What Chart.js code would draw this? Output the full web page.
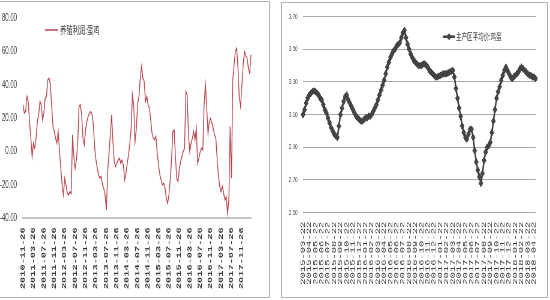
<!DOCTYPE html>
<html><head><meta charset="utf-8">
<script src="https://cdn.jsdelivr.net/npm/chart.js@4.4.1/dist/chart.umd.min.js"></script>
<style>
html,body{margin:0;padding:0;background:#fff;width:550px;height:300px;overflow:hidden;}
.panel{position:absolute;border:1px solid #b4b4b4;background:#fff;overflow:hidden;}
.squash{position:absolute;left:0;top:0;transform-origin:0 0;}
canvas{display:block;}
</style></head><body>
<div class="panel" style="left:-1px;top:1px;width:269px;height:295px;"><div class="squash" id="s1"><canvas id="c1"></canvas></div></div>
<div class="panel" style="left:281px;top:2px;width:265px;height:294px;"><div class="squash" id="s2"><canvas id="c2"></canvas></div></div>
<script>
// ---------- data: left chart (half-month steps from 2010-11-26) ----------
const profitLabel = '养殖利润:蛋鸡';
const profitTickLabels = ['2010-11-26','2011-03-26','2011-07-26','2011-11-26','2012-03-26','2012-07-26',
  '2012-11-26','2013-03-26','2013-07-26','2013-11-26','2014-03-26','2014-07-26','2014-11-26',
  '2015-03-26','2015-07-26','2015-11-26','2016-03-26','2016-07-26','2016-11-26','2017-03-26',
  '2017-07-26','2017-11-26'];
const profitValues = [
  28, 23, 24, 33, 30, 18, 8, -3, 5, 2,
  8, 18, 22, 30, 28, 19, 23, 32, 33, 43,
  44, 40, 27, 15, 12, 8, 5, 12, 0, -10,
  -20, -26, -16, -20, -25, -26, -24, -25, 10, -3,
  -10, -5, 5, 27, 28, 22, 8, 4, 13, 18,
  21, 23, 24, 22, 16, 2, -5, -10, -14, -16,
  -15, -20, -22, -26, -35, -12, -1, 10, 22, 6,
  -6, -9, -7, -5, -4, -7, -5, -8, -17, -13,
  -7, -2, 5, 14, 34, 28, 6, 14, 29, 33,
  44, 51, 44, 42, 30, 33, 28, 26, 19, 11,
  8, 7, 9, -1, -8, -14, -17, -20, -19, -22,
  -28, -31, -26, -17, -5, 12, 13, -3, -16, -18,
  -10, -6, -3, 0, 2, 36, 34, 10, 0, 5,
  8, 12, 7, 14, -7, -4, 0, 2, 1, 28,
  40, 26, 11, 18, 20, 17, 14, 10, 8, -4,
  -15, -21, -24, -21, -25, -29, -27, -37, -29, 15,
  -16, 43, 52, 60, 62, 50, 32, 27, 40, 52,
  60, 57, 56, 50, 47, 58
];
const profitYTicks = [-40, -20, 0, 20, 40, 60, 80];

// ---------- data: right chart (weekly steps from 2015-03-22) ----------
const priceLabel = '主产区平均价:鸡蛋';
const priceTickLabels = ['2015-03-22','2015-04-22','2015-05-22','2015-06-22','2015-07-22','2015-08-22',
  '2015-09-22','2015-10-22','2015-11-22','2015-12-22','2016-01-22','2016-02-22','2016-03-22',
  '2016-04-22','2016-05-22','2016-06-22','2016-07-22','2016-08-22','2016-09-22','2016-10-22',
  '2016-11-22','2016-12-22','2017-01-22','2017-02-22','2017-03-22','2017-04-22','2017-05-22',
  '2017-06-22','2017-07-22','2017-08-22','2017-09-22','2017-10-22','2017-11-22','2017-12-22',
  '2018-01-22','2018-02-22','2018-03-22','2018-04-22'];
const priceValues = [
  3.10, 3.13, 3.17, 3.20, 3.22, 3.23, 3.24, 3.245, 3.24, 3.23,
  3.22, 3.20, 3.19, 3.16, 3.13, 3.11, 3.08, 3.05, 3.02, 3.00,
  2.98, 2.97, 2.96, 3.03, 3.10, 3.14, 3.18, 3.21, 3.22, 3.19,
  3.17, 3.15, 3.13, 3.11, 3.09, 3.08, 3.07, 3.06, 3.06, 3.07,
  3.08, 3.08, 3.09, 3.09, 3.10, 3.12, 3.14, 3.16, 3.19, 3.22,
  3.25, 3.28, 3.31, 3.35, 3.39, 3.42, 3.45, 3.47, 3.49, 3.50,
  3.52, 3.53, 3.54, 3.57, 3.60, 3.615, 3.57, 3.53, 3.50, 3.47,
  3.45, 3.43, 3.42, 3.41, 3.40, 3.40, 3.40, 3.41, 3.41, 3.40,
  3.39, 3.37, 3.36, 3.35, 3.34, 3.33, 3.33, 3.335, 3.34, 3.345,
  3.35, 3.35, 3.35, 3.355, 3.36, 3.365, 3.37, 3.33, 3.26, 3.20,
  3.14, 3.09, 3.03, 2.99, 2.96, 2.95, 2.98, 3.01, 3.01, 2.96,
  2.88, 2.81, 2.76, 2.72, 2.68, 2.74, 2.82, 2.87, 2.90, 2.91,
  2.93, 2.99, 3.06, 3.13, 3.20, 3.24, 3.27, 3.31, 3.34, 3.37,
  3.39, 3.37, 3.35, 3.33, 3.32, 3.33, 3.34, 3.35, 3.36, 3.38,
  3.39, 3.38, 3.37, 3.36, 3.35, 3.34, 3.34, 3.33, 3.33, 3.32
];
const priceYTicks = [2.5, 2.7, 2.9, 3.1, 3.3, 3.5, 3.7];

// ---------- drawing ----------
const SQ = 0.6;

const inlineLegend = {
  id: 'inlineLegend',
  afterDraw(chart, args, o) {
    if (!o || !o.font) return;
    const ctx = chart.ctx, ds = chart.data.datasets[0];
    ctx.save();
    ctx.strokeStyle = ds.borderColor; ctx.lineWidth = o.lineWidth;
    ctx.beginPath(); ctx.moveTo(o.x0, o.y); ctx.lineTo(o.x1, o.y); ctx.stroke();
    if (o.marker) {
      const cx = (o.x0 + o.x1) / 2, r = o.marker;
      ctx.fillStyle = ds.pointBackgroundColor;
      ctx.beginPath(); ctx.moveTo(cx, o.y - r); ctx.lineTo(cx + r * 1.4, o.y); ctx.lineTo(cx, o.y + r); ctx.lineTo(cx - r * 1.4, o.y); ctx.closePath(); ctx.fill();
    }
    ctx.font = o.font; ctx.fillStyle = o.color; ctx.textBaseline = 'middle'; ctx.textAlign = 'left';
    ctx.fillText(ds.label, o.tx, o.y);
    ctx.restore();
  }
};

function makeChart(cfg) {
  const cw = Math.round(cfg.W / SQ), s = cfg.W / cw;
  const canvas = document.getElementById(cfg.canvas);
  canvas.width = cw; canvas.height = cfg.H;
  canvas.style.width = cw + 'px'; canvas.style.height = cfg.H + 'px';
  document.getElementById(cfg.wrap).style.transform = 'scaleX(' + s + ')';
  const left = cfg.areaLeft / s, right = cfg.areaRight / s;
  const lg = cfg.legend;
  const points = cfg.values.map((v, i) => ({ x: i * cfg.step, y: v }));
  return new Chart(canvas, {
    type: 'line',
    data: { datasets: [Object.assign({ label: cfg.label, data: points, tension: 0, clip: false }, cfg.dataset)] },
    options: {
      responsive: false, animation: false, devicePixelRatio: 1,
      layout: { padding: { left: 0, top: cfg.areaTop, right: cw - right, bottom: 0 } },
      plugins: {
        legend: { display: false }, tooltip: { enabled: false },
        inlineLegend: { x0: lg.x0 / s, x1: lg.x1 / s, tx: lg.tx / s, y: lg.y, font: lg.font, color: lg.color, lineWidth: lg.lineWidth, marker: lg.marker }
      },
      scales: {
        x: {
          type: 'linear', min: cfg.xMin, max: cfg.xMax,
          grid: { display: false, drawTicks: false },
          border: cfg.xBorder,
          afterBuildTicks: sc => { sc.ticks = cfg.tickLabels.map((_, i) => ({ value: i * cfg.tickStep })); },
          afterFit: sc => { sc.height = cfg.H - cfg.areaBottom; },
          ticks: { autoSkip: false, minRotation: 90, maxRotation: 90, padding: cfg.xPad, font: cfg.xFont, color: cfg.xColor,
                   callback: v => cfg.tickLabels[Math.round(v / cfg.tickStep)] }
        },
        y: {
          min: cfg.yTicks[0], max: cfg.yTicks[cfg.yTicks.length - 1],
          grid: cfg.yGrid, border: { display: false },
          afterBuildTicks: sc => { sc.ticks = cfg.yTicks.map(v => ({ value: v })); },
          afterFit: sc => { sc.width = left; },
          ticks: { padding: cfg.yPad, font: cfg.yFont, color: cfg.yColor, callback: v => Number(v).toFixed(2) }
        }
      }
    },
    plugins: [inlineLegend]
  });
}

makeChart({
  canvas: 'c1', wrap: 's1', W: 269, H: 295,
  areaLeft: 23, areaRight: 251, areaTop: 8.5, areaBottom: 216.3,
  values: profitValues, step: 0.5, label: profitLabel,
  tickLabels: profitTickLabels, tickStep: 4, xMin: 0, xMax: 87.5,
  yTicks: profitYTicks,
  dataset: { borderColor: '#b8434b', borderWidth: 1.4, pointRadius: 0 },
  xBorder: { display: true, color: '#c4c4c4', width: 2 },
  xPad: 9, xFont: { family: 'Liberation Mono', size: 10.3, weight: 'bold' }, xColor: '#3a3a3a',
  yGrid: { display: false, drawTicks: false },
  yPad: 10, yFont: { family: 'Liberation Sans', size: 10 }, yColor: '#404040',
  legend: { x0: 45, x1: 58, tx: 60, y: 28, font: '10.5px "Noto Sans CJK SC"', color: '#404040', lineWidth: 1.5 }
});

makeChart({
  canvas: 'c2', wrap: 's2', W: 265, H: 294,
  areaLeft: 21, areaRight: 258, areaTop: 13, areaBottom: 209.7,
  values: priceValues, step: 0.25, label: priceLabel,
  tickLabels: priceTickLabels, tickStep: 1, xMin: 0, xMax: 37.3,
  yTicks: priceYTicks,
  dataset: { borderColor: '#3e3e3e', borderWidth: 2.5, pointStyle: 'rectRot', pointRadius: 3.4,
             pointBackgroundColor: '#474747', pointBorderColor: '#3a3a3a', pointBorderWidth: 1 },
  xBorder: { display: false },
  xPad: 9, xFont: { family: 'Liberation Mono', size: 10.5 }, xColor: '#3a3a3a',
  yGrid: { display: true, color: '#a8a8a8', lineWidth: 1, drawTicks: false },
  yPad: 9, yFont: { family: 'Liberation Sans', size: 7.5 }, yColor: '#505050',
  legend: { x0: 161, x1: 173, tx: 174, y: 33.7, font: '9.2px "Noto Sans CJK SC"', color: '#404040', lineWidth: 2.5, marker: 3.5 }
});
</script>
</body></html>
